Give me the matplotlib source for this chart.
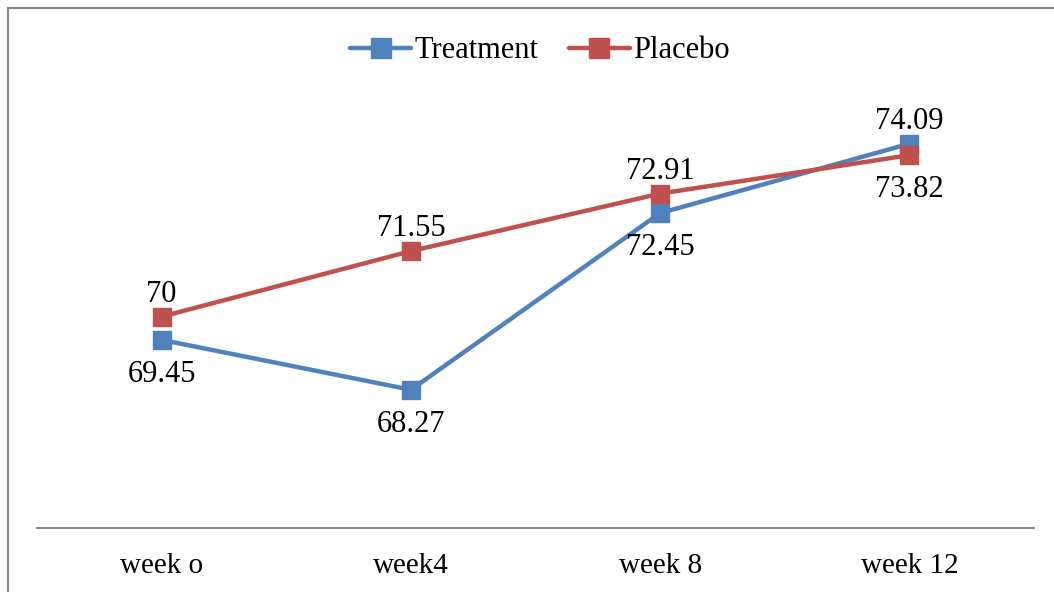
import matplotlib
matplotlib.use("Agg")
import matplotlib.pyplot as plt
from matplotlib.lines import Line2D

plt.rcParams['font.family'] = ['Liberation Serif', 'DejaVu Serif']

weeks = ["week o", "week4", "week 8", "week 12"]
treatment = [69.45, 68.27, 72.45, 74.09]
placebo = [70, 71.55, 72.91, 73.82]

# label side for each point: 1 = above, -1 = below
treat_side = [-1, -1, -1, 1]
placebo_side = [1, 1, 1, -1]

blue = '#4F81BD'
red = '#C0504D'

fig = plt.figure(figsize=(10.54, 5.92), dpi=100)
ax = fig.add_axes([37 / 1054, 1 - 528 / 592, (1034 - 37) / 1054, (528 - 63) / 592])

x = list(range(len(weeks)))
ax.plot(x, treatment, color=blue, lw=3.2, marker='s', ms=12.5,
        label='Treatment', solid_capstyle='round')
ax.plot(x, placebo, color=red, lw=3.2, marker='s', ms=12.5,
        label='Placebo', solid_capstyle='round')

for xs, vals, sides in [(x, treatment, treat_side), (x, placebo, placebo_side)]:
    for xi, v, s in zip(xs, vals, sides):
        dy = 16 if s > 0 else -25
        ax.annotate(f"{v:g}", (xi, v), xytext=(0, dy), textcoords='offset points',
                    ha='center', va='center', fontsize=22)

ax.set_xlim(-0.5, 3.5)
ax.set_ylim(65, 76)
ax.set_xticks(x)
ax.set_xticklabels(weeks, fontsize=21)
ax.tick_params(axis='x', length=0, pad=18)
ax.set_yticks([])
for side in ['top', 'right', 'left']:
    ax.spines[side].set_visible(False)
ax.spines['bottom'].set_color('#868686')
ax.spines['bottom'].set_linewidth(1.4)

fig.legend(loc='center', bbox_to_anchor=(0.512, 1 - 51 / 592), ncol=2,
           frameon=False, fontsize=22, handlelength=2.0, handletextpad=0.1,
           columnspacing=1.0, markerscale=1.1)

# outer chart border (left and top edges only visible)
fig.add_artist(Line2D([7.5 / 1054, 7.5 / 1054], [0, 1 - 8 / 592],
                      transform=fig.transFigure, color='#868686', lw=1.5))
fig.add_artist(Line2D([7.5 / 1054, 1], [1 - 8 / 592, 1 - 8 / 592],
                      transform=fig.transFigure, color='#868686', lw=1.5))

fig.savefig('out.png', dpi=100)
